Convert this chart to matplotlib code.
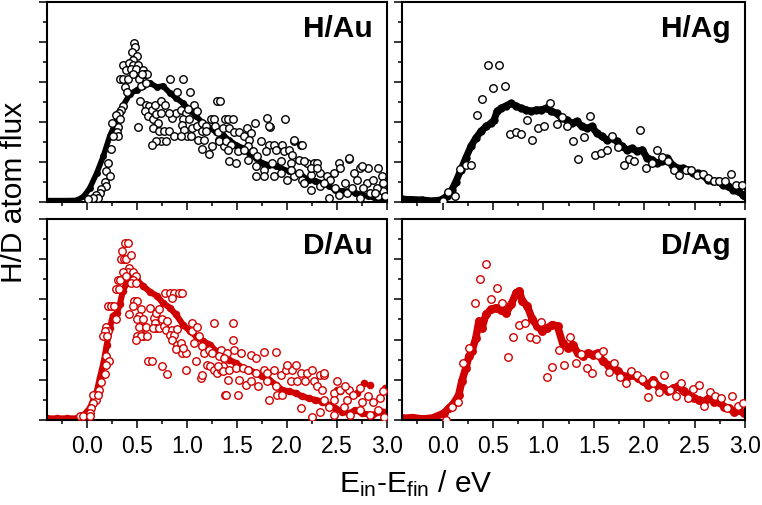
import matplotlib
matplotlib.use("Agg")
import matplotlib.pyplot as plt
from matplotlib.ticker import MultipleLocator, NullFormatter

plt.rcParams['font.family'] = ['Liberation Sans', 'DejaVu Sans']
plt.rcParams['mathtext.fontset'] = 'custom'
plt.rcParams['mathtext.rm'] = 'Liberation Sans'
plt.rcParams['mathtext.it'] = 'Liberation Sans:italic'

RED = '#d00000'
BLACK = '#000000'

# ---------------- H/Au ----------------
hau_sim_x = [-0.40, -0.30, -0.20, -0.10, -0.03, 0.03, 0.10, 0.166, 0.23, 0.30, 0.36, 0.43, 0.50, 0.56, 0.63,
             0.70, 0.76, 0.83, 0.89, 0.96, 1.03, 1.09, 1.16, 1.23, 1.29, 1.36, 1.42, 1.49, 1.56, 1.62,
             1.69, 1.75, 1.82, 1.89, 1.95, 2.02, 2.09, 2.15, 2.22, 2.28, 2.35, 2.42, 2.48, 2.55, 2.62,
             2.68, 2.75, 2.81, 2.88, 2.95, 3.00]
hau_sim_y = [0.07, 0.07, 0.07, 0.08, 0.28, 0.70, 1.45, 2.30, 3.30, 4.10, 4.80, 5.40, 5.60, 5.80, 5.95,
             5.75, 5.80, 5.45, 5.20, 4.95, 4.60, 4.30, 3.95, 3.70, 3.50, 3.35, 3.10, 2.85, 2.70, 2.45,
             2.20, 1.95, 1.85, 1.80, 1.65, 1.55, 1.40, 1.30, 1.10, 1.05, 0.95, 0.80, 0.60, 0.55, 0.55,
             0.45, 0.37, 0.28, 0.20, 0.15, 0.10]
hau_exp_x = [0.47, 0.48, 0.45, 0.50, 0.46, 0.36, 0.42, 0.46, 0.51, 0.39, 0.44, 0.49, 0.56, 0.58, 0.60,
             0.33, 0.36, 0.41, 0.46, 0.52, 0.55, 0.38, 0.40, 0.54, 0.59, 0.83, 0.96, 1.03, 0.90, 0.36,
             0.34, 0.32, 0.29, 0.33, 0.31, 0.25, 0.30, 0.31, 0.26, 0.24, 0.21, 0.19, 0.23, 0.18, 0.19,
             0.14, 0.13, 0.09, 0.11, 0.06, 0.01, 0.53, 0.59, 0.62, 0.58, 0.61, 0.65, 0.68, 0.74, 0.78,
             0.66, 0.69, 0.74, 0.71, 0.66, 0.72, 0.77, 0.82, 0.87, 0.74, 0.79, 0.69, 0.65, 0.51, 0.85,
             0.89, 0.94, 0.99, 0.96, 0.95, 0.97, 1.00, 0.94, 1.04, 1.05, 1.02, 1.10, 1.15, 1.15, 1.11,
             1.17, 1.15, 1.22, 1.25, 1.24, 1.27, 1.30, 1.33, 1.28, 1.32, 1.37, 1.38, 1.07, 1.01, 0.82,
             1.10, 1.19, 1.19,
             1.41, 1.46, 1.68, 1.98, 1.83, 1.31, 1.36, 1.42, 1.47, 1.52, 1.60, 1.64, 1.32, 1.39, 1.44,
             1.57, 1.62, 1.61, 1.74, 1.82, 1.87, 1.95, 2.07, 2.14, 1.41, 1.51, 1.57, 1.66, 1.70, 1.79,
             1.89, 1.97, 2.02, 2.05, 1.42, 1.49, 1.61, 1.69, 1.77, 1.85, 1.94, 2.04, 2.12, 2.20, 2.27,
             2.30, 1.69, 1.77, 1.87, 1.94, 2.07, 2.15, 2.24, 2.33, 2.40, 2.47, 2.52, 2.62, 2.53, 2.73,
             2.81, 2.91, 2.67, 2.00, 2.17, 2.24, 2.33, 2.43, 2.58, 2.70, 2.80, 2.86, 2.95, 2.96, 2.42,
             2.52, 2.60, 2.73, 2.83, 2.91, 2.96, 2.65, 2.76, 2.90, 2.48, 2.37, 2.12, 2.04, 2.24, 2.30,
             2.17, 1.80, 2.15, 2.07, 2.62, 2.75, 1.82, 2.98, 2.88]
hau_exp_y = [7.94, 7.74, 7.48, 7.31, 7.11, 6.86, 6.94, 6.86, 6.86, 6.61, 6.64, 6.64, 6.61, 6.41, 6.41,
             6.16, 6.16, 6.16, 6.41, 6.16, 6.41, 5.74, 5.51, 5.78, 5.94, 6.16, 6.16, 5.49, 5.49, 4.81,
             4.61, 4.44, 4.36, 4.14, 3.73, 3.94, 3.49, 3.28, 3.28, 2.64, 1.94, 1.53, 1.28, 0.98, 0.81,
             0.64, 0.44, 0.36, 0.19, 0.19, 0.14, 5.06, 4.86, 4.78, 4.53, 4.31, 4.61, 4.86, 5.06, 4.86,
             4.14, 4.41, 4.44, 3.94, 3.69, 3.53, 3.53, 3.53, 3.31, 3.06, 3.06, 3.06, 2.83, 3.73, 4.19,
             4.44, 4.61, 4.44, 4.14, 3.86, 3.61, 3.28, 3.28, 3.28, 3.69, 4.14, 3.78, 3.94, 3.53, 3.11,
             3.11, 2.64, 2.41, 2.78, 4.14, 4.14, 5.06, 5.06, 3.78, 3.11, 2.78, 4.14, 4.86, 4.64, 4.44,
             4.53, 3.78, 3.53,
             4.14, 4.14, 3.94, 4.16, 3.73, 3.48, 3.69, 3.69, 3.48, 3.48, 3.69, 3.44, 3.03, 3.03, 2.86,
             3.28, 3.11, 2.78, 3.03, 2.86, 2.86, 2.86, 3.03, 2.83, 2.61, 2.53, 2.61, 2.53, 2.28, 2.53,
             2.61, 2.53, 2.61, 2.36, 2.03, 1.94, 2.11, 1.78, 1.61, 1.94, 2.03, 1.94, 2.11, 1.94, 1.94,
             1.94, 1.28, 1.28, 1.28, 1.44, 1.28, 1.11, 1.36, 1.44, 1.28, 1.44, 1.94, 2.16, 1.69, 1.69,
             1.69, 1.69, 1.44, 1.11, 0.94, 0.61, 0.78, 1.11, 0.94, 1.11, 0.94, 1.11, 1.28, 0.94, 0.19,
             0.36, 0.44, 0.19, 0.44, 0.28, 0.53, 0.69, 0.69, 0.69, 0.69, 0.94, 1.44, 1.61, 1.69, 1.69,
             2.03, 4.20, 2.87, 3.10, 2.20, 1.78, 3.78, 0.30, 0.45]

# ---------------- H/Ag ----------------
hag_sim_x = [-0.40, -0.30, -0.20, -0.10, -0.02, 0.04, 0.09, 0.13, 0.18, 0.23, 0.28, 0.33, 0.38, 0.43, 0.48,
             0.51, 0.54, 0.58, 0.63, 0.68, 0.73, 0.78, 0.83, 0.88, 0.93, 0.98, 1.03, 1.08, 1.13, 1.18,
             1.23, 1.28, 1.33, 1.38, 1.43, 1.48, 1.53, 1.58, 1.63, 1.68, 1.73, 1.78, 1.83, 1.88, 1.93,
             1.98, 2.03, 2.08, 2.13, 2.18, 2.23, 2.28, 2.33, 2.38, 2.43, 2.48, 2.53, 2.58, 2.63, 2.68,
             2.73, 2.78, 2.83, 2.88, 2.93, 2.98, 3.00]
hag_sim_y = [0.14, 0.12, 0.10, 0.05, 0.10, 0.28, 0.60, 1.00, 1.60, 2.20, 2.78, 3.20, 3.53, 3.78, 3.94,
             4.10, 4.53, 4.69, 4.81, 4.94, 4.78, 4.69, 4.61, 4.53, 4.61, 4.61, 4.69, 4.53, 4.44, 4.19,
             4.11, 3.94, 4.03, 3.78, 3.69, 3.78, 3.44, 3.28, 3.11, 3.19, 3.03, 2.78, 2.61, 2.69, 2.53,
             2.61, 2.19, 2.11, 1.94, 2.03, 2.19, 1.86, 1.69, 1.69, 1.61, 1.44, 1.44, 1.36, 1.11, 1.03,
             1.03, 0.86, 0.78, 0.61, 0.53, 0.36, 0.28]
hag_exp_x = [0.00, 0.05, 0.12, 0.17, 0.23, 0.28, 0.34, 0.39, 0.45, 0.50, 0.56, 0.62, 0.67, 0.73, 0.78,
             0.84, 0.89, 0.95, 1.01, 1.07, 1.13, 1.18, 1.23, 1.29, 1.34, 1.40, 1.46, 1.51, 1.57, 1.63,
             1.68, 1.74, 1.80, 1.85, 1.90, 1.96, 2.02, 2.08, 2.13, 2.18, 2.24, 2.30, 2.35, 2.41, 2.46,
             2.52, 2.58, 2.63, 2.69, 2.74, 2.80, 2.86, 2.91, 2.97]
hag_exp_y = [0.05, 0.48, 0.31, 1.66, 1.86, 1.86, 4.36, 5.14, 6.86, 5.71, 6.86, 5.81, 3.39, 3.49, 3.39,
             4.08, 3.11, 3.69, 3.78, 4.94, 3.88, 4.24, 3.78, 3.03, 2.14, 3.23, 4.28, 2.36, 2.44, 2.61,
             3.31, 2.74, 1.86, 2.14, 2.03, 3.61, 1.69, 1.94, 2.61, 2.24, 2.06, 1.61, 1.36, 1.58, 1.58,
             1.36, 1.41, 1.19, 1.03, 1.03, 1.03, 1.41, 0.83, 0.83]

# ---------------- D/Au ----------------
dau_sim_x = [-0.40, -0.30, -0.20, -0.10, -0.03, 0.03, 0.10, 0.13, 0.17, 0.20, 0.23, 0.26, 0.30, 0.33, 0.36,
             0.40, 0.43, 0.50, 0.56, 0.63, 0.70, 0.76, 0.83, 0.89, 0.96, 1.03, 1.09, 1.16, 1.23, 1.29,
             1.36, 1.42, 1.49, 1.56, 1.62, 1.69, 1.75, 1.82, 1.89, 1.95, 2.02, 2.09, 2.15, 2.22, 2.28,
             2.35, 2.42, 2.48, 2.55, 2.62, 2.68, 2.75, 2.85, 2.95, 3.00]
dau_sim_y = [0.08, 0.08, 0.08, 0.08, 0.25, 0.58, 1.42, 2.08, 2.92, 3.75, 4.58, 5.17, 5.33, 5.75, 6.42,
             6.83, 7.00, 6.95, 6.67, 6.38, 6.17, 5.83, 5.58, 5.25, 4.75, 4.42, 4.17, 3.92, 3.75, 3.42,
             3.17, 3.00, 2.83, 2.58, 2.50, 2.33, 2.17, 2.00, 1.75, 1.50, 1.42, 1.33, 1.17, 1.08, 1.00,
             0.92, 0.75, 0.58, 0.42, 0.33, 0.50, 0.33, 0.25, 0.42, 0.40]
dau_sim_extra_x = [2.77, 2.83, 2.98, 2.50, 2.53, 2.70]
dau_sim_extra_y = [1.83, 1.75, 1.58, 1.50, 1.42, 1.33]
dau_exp_x = [0.38, 0.41, 0.35, 0.34, 0.37, 0.39, 0.44, 0.42, 0.41, 0.46, 0.36, 0.31, 0.33, 0.29, 0.32,
             0.49, 0.46, 0.44, 0.49, 0.39, 0.21, 0.24, 0.27, 0.29, 0.19, 0.21, 0.18, 0.16, 0.20, 0.19,
             0.22, 0.19, 0.18, 0.14, 0.12, 0.08, 0.09, 0.06, 0.04, 0.03, -0.07, -0.04, 0.03, 0.06, 0.11,
             0.42, 0.47, 0.50, 0.46, 0.54, 0.52, 0.50, 0.56, 0.56, 0.52, 0.59, 0.56, 0.50, 0.54, 0.60,
             0.49, 0.63, 0.67, 0.68, 0.69, 0.66, 0.72, 0.75, 0.77, 0.79, 0.80, 0.85, 0.83, 0.87, 0.90,
             0.85, 0.90, 0.94, 0.95, 0.99, 0.89, 0.96, 0.69, 0.72, 0.78, 0.83, 0.87, 0.92, 0.95, 0.85,
             0.61, 0.65, 0.75, 0.80, 0.99, 1.05, 1.05, 1.10, 1.12, 1.07, 1.15, 1.17, 1.22, 1.25, 1.27,
             1.20, 1.23, 1.27, 1.30, 1.14, 1.15, 1.09, 1.34, 1.36, 1.38,
             1.46, 1.46, 1.77, 1.89, 1.34, 1.40, 1.47, 1.54, 1.64, 1.69, 1.32, 1.37, 1.31, 1.36, 1.42,
             1.49, 1.56, 1.61, 1.69, 1.77, 1.80, 1.87, 1.94, 1.99, 2.05, 2.00, 2.14, 2.20, 2.25, 1.39,
             1.51, 1.41, 1.52, 1.59, 1.64, 1.71, 1.80, 1.82, 1.89, 1.90, 1.95, 2.04, 2.10, 2.18, 2.27,
             2.33, 2.37, 2.30, 2.35, 2.50, 2.47, 2.53, 2.62, 2.66, 2.73, 2.81, 2.86, 2.93, 2.96, 2.14,
             2.25, 2.33, 2.42, 2.47, 2.57, 2.63, 2.73, 2.83, 2.91, 2.97, 2.60, 2.75, 2.47, 2.37, 2.09,
             2.37, 2.58]
dau_exp_y = [8.83, 8.83, 8.42, 8.00, 8.00, 8.00, 8.20, 7.58, 7.37, 7.37, 7.37, 6.97, 6.97, 6.53, 6.53,
             7.17, 6.97, 6.80, 6.80, 7.17, 5.67, 5.67, 5.67, 5.03, 4.63, 4.42, 4.42, 4.17, 4.17, 3.17,
             2.92, 2.75, 2.30, 1.87, 1.47, 1.25, 1.00, 0.83, 0.58, 0.37, 0.20, 0.20, 0.20, 1.25, 1.25,
             5.25, 5.92, 5.92, 5.67, 5.50, 5.17, 5.03, 5.03, 4.63, 4.63, 4.63, 4.20, 4.20, 4.20, 4.20,
             4.00, 5.58, 5.08, 4.83, 4.58, 4.58, 4.58, 5.03, 4.67, 4.50, 4.92, 4.50, 4.25, 4.25, 4.53,
             4.00, 3.75, 3.83, 3.33, 3.33, 3.53, 3.58, 5.33, 5.50, 6.33, 6.33, 6.33, 6.33, 6.33, 6.08,
             2.92, 2.92, 2.70, 2.30, 2.50, 4.83, 4.42, 4.63, 4.17, 3.83, 3.67, 3.33, 3.50, 3.33, 4.83,
             2.75, 2.67, 2.50, 2.33, 2.08, 2.25, 2.92, 2.50, 2.67, 1.25,
             4.83, 4.00, 3.37, 3.37, 3.50, 3.33, 3.50, 3.33, 3.25, 3.08, 3.17, 3.08, 2.67, 2.42, 2.50,
             2.58, 2.58, 2.50, 2.33, 2.50, 2.33, 2.50, 2.25, 2.50, 2.50, 2.75, 2.33, 2.33, 2.50, 1.25,
             1.25, 2.00, 2.00, 1.75, 1.92, 1.67, 1.92, 1.00, 1.67, 1.25, 1.25, 1.92, 1.92, 1.92, 1.92,
             2.25, 2.25, 1.67, 1.50, 1.92, 1.33, 1.50, 1.50, 1.25, 1.58, 1.17, 0.92, 1.08, 1.42, 0.58,
             0.17, 0.42, 0.67, 0.25, 0.67, 0.25, 0.50, 0.25, 0.50, 0.17, 1.00, 0.92, 1.00, 1.00, 2.75,
             2.33, 1.67]

# ---------------- D/Ag ----------------
dag_sim_x = [-0.40, -0.30, -0.20, -0.10, 0.01, 0.06, 0.11, 0.16, 0.19, 0.23, 0.26, 0.29, 0.33, 0.36, 0.39,
             0.43, 0.48, 0.53, 0.58, 0.63, 0.68, 0.73, 0.76, 0.79, 0.84, 0.89, 0.94, 0.99, 1.04, 1.09,
             1.14, 1.19, 1.24, 1.29, 1.34, 1.39, 1.44, 1.49, 1.54, 1.59, 1.64, 1.69, 1.74, 1.79, 1.84,
             1.89, 1.94, 1.99, 2.04, 2.09, 2.14, 2.19, 2.24, 2.29, 2.34, 2.39, 2.44, 2.49, 2.54, 2.59,
             2.64, 2.69, 2.74, 2.79, 2.84, 2.89, 2.94, 2.99]
dag_sim_y = [0.08, 0.12, 0.05, 0.10, 0.33, 0.58, 0.83, 1.25, 1.92, 2.58, 3.17, 3.42, 4.08, 4.92, 4.58,
             5.25, 5.50, 5.58, 5.45, 5.33, 5.75, 6.33, 6.42, 5.92, 5.67, 5.00, 4.67, 4.42, 4.58, 4.75,
             4.67, 3.83, 3.58, 3.75, 3.33, 3.17, 3.33, 3.25, 3.33, 2.92, 2.75, 2.67, 2.42, 2.17, 2.17,
             2.25, 2.08, 1.92, 1.75, 2.00, 1.67, 1.58, 1.42, 1.58, 1.67, 1.42, 1.25, 1.08, 1.00, 0.92,
             1.08, 0.92, 0.92, 0.67, 0.58, 0.42, 0.50, 0.33]
dag_exp_x = [0.03, 0.09, 0.15, 0.20, 0.26, 0.32, 0.37, 0.43, 0.48, 0.54, 0.59, 0.65, 0.70, 0.76, 0.82,
             0.87, 0.93, 0.98, 1.04, 1.09, 1.15, 1.20, 1.26, 1.32, 1.37, 1.43, 1.48, 1.54, 1.59, 1.65,
             1.70, 1.76, 1.82, 1.87, 1.93, 1.98, 2.04, 2.09, 2.15, 2.20, 2.26, 2.32, 2.37, 2.43, 2.48,
             2.54, 2.59, 2.65, 2.70, 2.76, 2.82, 2.87, 2.93, 2.98]
dag_exp_y = [0.02, 0.63, 0.88, 2.85, 3.58, 5.83, 7.02, 7.75, 6.00, 6.55, 5.83, 3.13, 4.15, 4.72, 4.82,
             4.15, 4.03, 4.88, 2.12, 2.65, 3.48, 2.75, 4.15, 2.85, 3.30, 2.58, 2.32, 3.22, 3.42, 2.38,
             2.85, 2.12, 1.82, 2.42, 2.22, 2.02, 1.12, 1.82, 1.37, 2.22, 1.47, 1.17, 1.82, 1.08, 1.55,
             1.72, 0.72, 1.37, 1.17, 1.08, 0.62, 1.17, 0.72, 0.83]

panels = [
    ("H/Au", BLACK, 4.0, hau_sim_x, hau_sim_y, [], [], hau_exp_x, hau_exp_y),
    ("H/Ag", BLACK, 5.0, hag_sim_x, hag_sim_y, [], [], hag_exp_x, hag_exp_y),
    ("D/Au", RED, 4.4, dau_sim_x, dau_sim_y, dau_sim_extra_x, dau_sim_extra_y, dau_exp_x, dau_exp_y),
    ("D/Ag", RED, 5.4, dag_sim_x, dag_sim_y, [], [], dag_exp_x, dag_exp_y),
]

W, H = 762, 505
fig = plt.figure(figsize=(W / 100, H / 100), dpi=100)
rects = [
    (46.7, 2, 340.6, 200),
    (402.3, 2, 342.7, 200),
    (46.7, 219, 340.6, 201),
    (402.3, 219, 342.7, 201),
]

for i, (label, col, lw, sx, sy, ex_x, ex_y, px, py) in enumerate(panels):
    l, t, w, h = rects[i]
    ax = fig.add_axes([l / W, 1 - (t + h) / H, w / W, h / H])
    ax.plot(sx, sy, '-', color=col, lw=lw, solid_capstyle='round', solid_joinstyle='round', zorder=2)
    ax.plot(sx, sy, 'o', color=col, ms=lw + 1.0, mew=0, zorder=2)
    if ex_x:
        ax.plot(ex_x, ex_y, 'o', color=col, ms=5.5, mew=0, zorder=2)
    ax.plot(px, py, 'o', mfc='white', mec=col, ms=5.4, mew=1.0, ls='none', zorder=3)
    ax.set_xlim(-0.4, 3.0)
    ax.set_ylim(0, 10)
    for s in ax.spines.values():
        s.set_linewidth(1.5)
    ax.xaxis.set_major_locator(MultipleLocator(0.5))
    ax.xaxis.set_minor_locator(MultipleLocator(0.25))
    ax.yaxis.set_major_locator(MultipleLocator(2))
    ax.yaxis.set_minor_locator(MultipleLocator(1))
    ax.tick_params(which='both', direction='out', top=False, right=False, width=1.1)
    ax.tick_params(which='major', length=5.5)
    ax.tick_params(which='minor', length=3)
    ax.tick_params(axis='x', labelsize=16.5, pad=5)
    ax.yaxis.set_major_formatter(NullFormatter())
    if i < 2:
        ax.xaxis.set_major_formatter(NullFormatter())
    ax.text(0.958, 0.865, label, transform=ax.transAxes, ha='right', va='center',
            fontsize=21.5, fontweight='bold')

fig.text(14 / W, 1 - 192 / H, 'H/D atom flux', rotation=90, ha='center', va='center', fontsize=21.5)
fig.text(416 / W, 1 - 492 / H, r'E$_{\mathrm{in}}$-E$_{\mathrm{fin}}$ / eV', ha='center',
         va='baseline', fontsize=21.5)

fig.savefig('out.png', dpi=100)
